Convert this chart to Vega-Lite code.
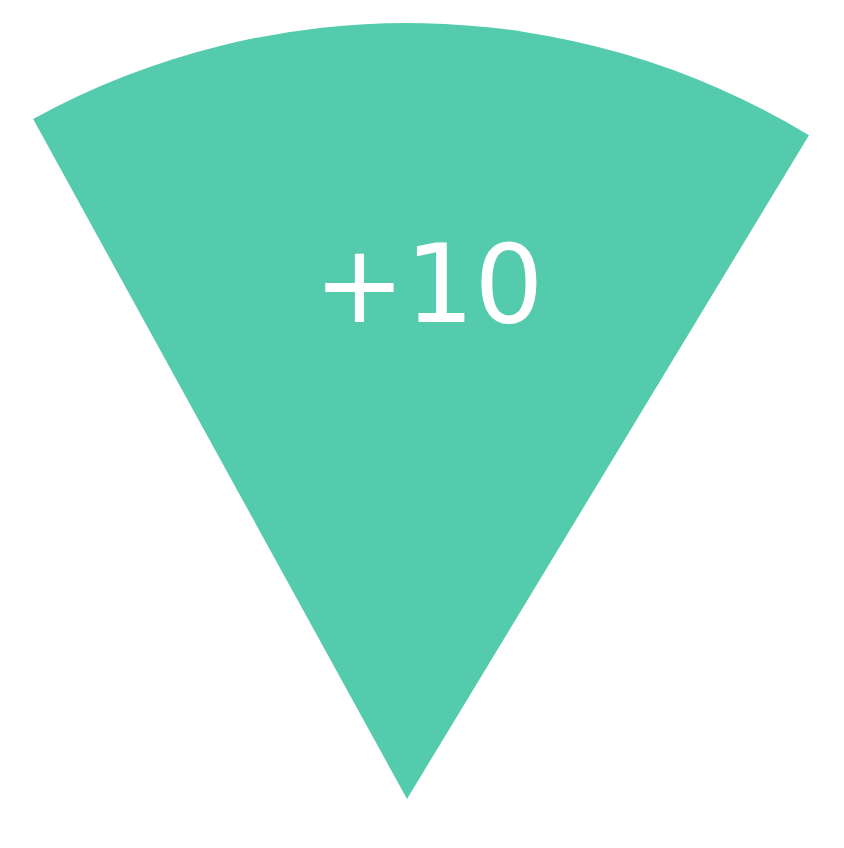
{
  "$schema": "https://vega.github.io/schema/vega-lite/v6.json",
  "description": "Single wedge showing +10",
  "width": 814,
  "height": 1598,
  "padding": 0,
  "autosize": {"type": "none"},
  "background": "white",
  "view": {"stroke": null},
  "data": {
    "values": [
      {"category": "change", "value": 10, "label": "+10"}
    ]
  },
  "encoding": {
    "theta": {
      "field": "value",
      "type": "quantitative",
      "stack": true,
      "scale": {"domain": [0, 10], "range": [-0.5027, 0.5445]}
    }
  },
  "layer": [
    {
      "mark": {"type": "arc", "radius": 776, "color": "#55cbad", "stroke": null}
    },
    {
      "mark": {
        "type": "text",
        "radius": 510,
        "dx": 11,
        "font": "DejaVu Sans",
        "fontSize": 109,
        "color": "white",
        "align": "center",
        "baseline": "middle"
      },
      "encoding": {"text": {"field": "label", "type": "nominal"}}
    }
  ]
}
